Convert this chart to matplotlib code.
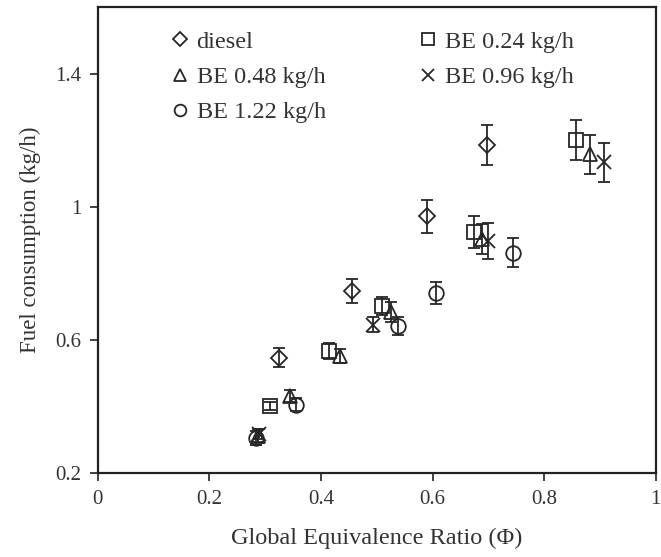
import matplotlib
matplotlib.use("Agg")
import matplotlib.pyplot as plt
from matplotlib.lines import Line2D

plt.rcParams['font.family'] = ['Liberation Serif', 'DejaVu Serif']

# ---- data ----
diesel_x = [0.325, 0.455, 0.590, 0.698]
diesel_y = [0.546, 0.747, 0.971, 1.186]
diesel_e = [0.028, 0.037, 0.049, 0.060]

be024_x = [0.308, 0.415, 0.510, 0.675, 0.857]
be024_y = [0.400, 0.566, 0.703, 0.924, 1.200]
be024_e = [0.012, 0.025, 0.027, 0.047, 0.060]

be048_x = [0.287, 0.344, 0.434, 0.525, 0.689, 0.883]
be048_y = [0.312, 0.430, 0.551, 0.685, 0.902, 1.158]
be048_e = [0.020, 0.018, 0.020, 0.030, 0.045, 0.058]

be096_x = [0.289, 0.494, 0.700, 0.907]
be096_y = [0.318, 0.646, 0.897, 1.134]
be096_e = [0.015, 0.023, 0.055, 0.058]

be122_x = [0.284, 0.356, 0.538, 0.606, 0.744]
be122_y = [0.305, 0.405, 0.643, 0.740, 0.862]
be122_e = [0.020, 0.020, 0.027, 0.033, 0.044]

labels = ['diesel', 'BE 0.24 kg/h', 'BE 0.48 kg/h', 'BE 0.96 kg/h', 'BE 1.22 kg/h']
x_ticks = [0, 0.2, 0.4, 0.6, 0.8, 1]
x_ticklabels = ['0', '0.2', '0.4', '0.6', '0.8', '1']
y_ticks = [0.2, 0.6, 1.0, 1.4]
y_ticklabels = ['0.2', '0.6', '1', '1.4']

col = '#262626'
series = [
    (diesel_x, diesel_y, diesel_e, 'D', 8.5),
    (be024_x, be024_y, be024_e, 's', 10),
    (be048_x, be048_y, be048_e, '^', 10.5),
    (be096_x, be096_y, be096_e, 'x', 10),
    (be122_x, be122_y, be122_e, 'o', 10.5),
]

fig = plt.figure(figsize=(6.61, 5.57), dpi=100)
ax = fig.add_axes([0.148, 0.151, 0.844, 0.836])

handles = []
for (xs, ys, es, m, ms), lab in zip(series, labels):
    ax.errorbar(xs, ys, yerr=es, fmt=m, ms=ms, mfc='none', mec=col, mew=1.3,
                ecolor=col, elinewidth=1.3, capsize=4.3, capthick=1.3)
    handles.append(Line2D([], [], ls='none', marker=m, ms=ms * 0.8, mfc='none',
                          mec=col, mew=1.3, label=lab))

ax.set_xlim(0, 1)
ax.set_ylim(0.2, 1.6)
ax.set_xticks(x_ticks)
ax.set_xticklabels(x_ticklabels)
ax.set_yticks(y_ticks)
ax.set_yticklabels(y_ticklabels)
ax.tick_params(direction='out', length=6, width=1.3, labelsize=15,
               colors='#333333', pad=6)
for s in ax.spines.values():
    s.set_linewidth(1.6)
    s.set_color('#222222')

ax.set_xlabel('Global Equivalence Ratio (\u03a6)', fontsize=17.5, color='#333333', labelpad=14)
ax.set_ylabel('Fuel consumption (kg/h)', fontsize=16.5, color='#333333', labelpad=10)

order = [0, 2, 4, 1, 3]
ax.legend([handles[i] for i in order], [labels[i] for i in order], ncol=2,
          loc='upper left', bbox_to_anchor=(0.116, 0.970), frameon=False,
          fontsize=17.5, handlelength=0.6, handletextpad=0.4,
          columnspacing=3.9, labelspacing=0.54, borderaxespad=0.0,
          labelcolor='#333333')

fig.savefig('out.png', dpi=100)
